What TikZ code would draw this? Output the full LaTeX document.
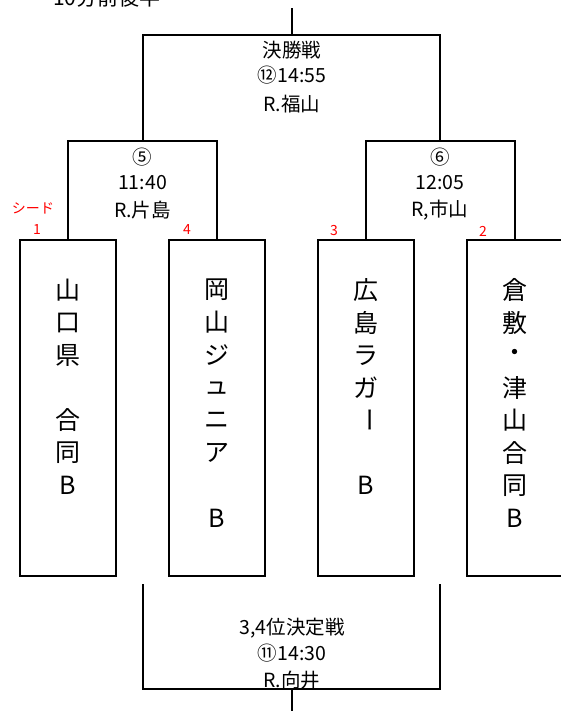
\documentclass[tikz,border=0pt]{standalone}
\usepackage{fontspec}
\setmainfont{Noto Sans CJK JP}
\begin{document}
\begin{tikzpicture}[x=1pt,y=-1pt,
  line/.style={line width=2pt},
  teambox/.style={draw,line width=2pt,minimum width=96pt,minimum height=336pt,inner sep=0pt},
  teamch/.style={font=\fontsize{25}{25}\selectfont,inner sep=0pt},
  info/.style={font=\fontsize{19.5}{19.5}\selectfont,inner sep=0pt},
  redlab/.style={text=red,font=\fontsize{14}{14}\selectfont,inner sep=0pt}]
\useasboundingbox (0,0) rectangle (560,711);
% top note (cut off)
\node[anchor=base west,inner sep=0pt,font=\fontsize{21}{21}\selectfont] (note) at (53,6) {10分前後半};
% team boxes
\node[teambox] (t1) at (68,408) {};
\node[teambox] (t2) at (217,408) {};
\node[teambox] (t3) at (365.5,408) {};
\node[teambox] (t4) at (515,408) {};
% team names
\foreach \c [count=\i] in {山,口,県,{},合,同,B}
  \node[teamch] (a\i) at (68,{290+(\i-1)*32.6}) {\c};
\foreach \c [count=\i] in {岡,山,ジ,ュ,ニ,ア,{},B}
  \node[teamch] (b\i) at (217,{290+(\i-1)*32.6}) {\c};
\foreach \c [count=\i] in {広,島,ラ,ガ,{},{},B}
  \node[teamch] (c\i) at (365.5,{290+(\i-1)*32.6}) {\c};
\node[teamch,rotate=-90] (c5) at (365.5,{290+4*32.6}) {ー};
\foreach \c [count=\i] in {倉,敷,・,津,山,合,同,B}
  \node[teamch] (d\i) at (515,{290+(\i-1)*32.6}) {\c};
% bracket coordinates
\coordinate (s5l) at (68,141);
\coordinate (s5r) at (217,141);
\coordinate (s6l) at (365.5,141);
\coordinate (s6r) at (515,141);
\coordinate (f l) at (142.5,35);
\coordinate (f r) at (440,35);
\coordinate (f5) at (142.5,141);
\coordinate (f6) at (440,141);
\coordinate (ftop) at (292,35);
\coordinate (fend) at (292,8);
\coordinate (bl1) at (142.5,584);
\coordinate (br1) at (440,584);
\coordinate (bl2) at (142.5,689);
\coordinate (br2) at (440,689);
\coordinate (bmid) at (292,689);
\coordinate (bend) at (292,711);
% semifinal brackets
\draw[line] (t1.north) -- (s5l) -- (s5r) -- (t2.north);
\draw[line] (t3.north) -- (s6l) -- (s6r) -- (t4.north);
% final bracket
\draw[line] (f5) -- (f l) -- (f r) -- (f6);
\draw[line] (ftop) -- (fend);
% third place bracket
\draw[line] (bl1) -- (bl2) -- (br2) -- (br1);
\draw[line] (bmid) -- (bend);
% match texts
\node[info] (m12a) at (292,50) {決勝戦};
\node[info] (m12b) at (292,75) {⑫14:55};
\node[info] (m12c) at (292,104) {R.福山};
\node[info] (m5a) at (142.5,157) {⑤};
\node[info] (m5b) at (142.5,183) {11:40};
\node[info] (m5c) at (142.5,210) {R.片島};
\node[info] (m6a) at (440,157) {⑥};
\node[info] (m6b) at (440,183) {12:05};
\node[info] (m6c) at (440,210) {R,市山};
\node[info] (m11a) at (292,628) {3,4位決定戦};
\node[info] (m11b) at (292,653) {⑪14:30};
\node[info] (m11c) at (292,680) {R.向井};
% seeds
\node[redlab] (seed) at (33,208) {シード};
\node[redlab] (n1) at (37,230) {1};
\node[redlab] (n4) at (187,230) {4};
\node[redlab] (n3) at (334,231) {3};
\node[redlab] (n2) at (483,231) {2};
\end{tikzpicture}
\end{document}
